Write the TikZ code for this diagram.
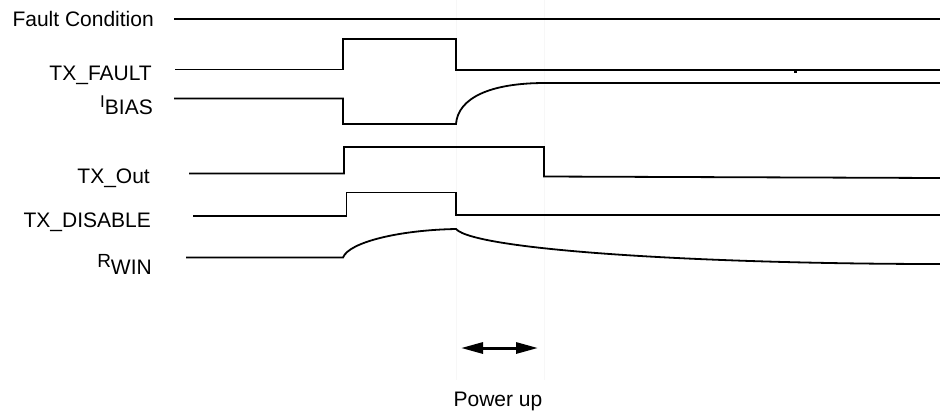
\documentclass[tikz,border=0pt]{standalone}
\usepackage{fontspec}
\setmainfont{Liberation Sans}
\usetikzlibrary{arrows.meta}
\begin{document}
\begin{tikzpicture}[x=1pt,y=-1pt,
  lbl/.style={anchor=base east,inner sep=0pt,font=\fontsize{21}{24}\selectfont},
  sig/.style={line width=1.8pt,line join=miter},
  guide/.style={line width=0.6pt,black!3},
  span/.style={line width=3pt,{Triangle[length=22pt,width=11pt]}-{Triangle[length=22pt,width=11pt]}}]
\useasboundingbox (0,0) rectangle (940,416);
% faint guide lines
\draw[guide] (456.5,0) -- (456.5,380);
\draw[guide] (544.5,0) -- (544.5,380);
% labels
\node[lbl] (fc) at (154,26) {Fault Condition};
\node[lbl] (txf) at (152,80) {TX\_FAULT};
\node[lbl] (ibias) at (153,114) {\raisebox{6.5pt}{\fontsize{17}{20}\selectfont I}BIAS};
\node[lbl] (txo) at (150,183) {TX\_Out};
\node[lbl] (txd) at (151,227) {TX\_DISABLE};
\node[lbl] (rwin) at (152,274) {\raisebox{6.5pt}{\fontsize{19}{20}\selectfont R}WIN};
\node[lbl,anchor=base] (pu) at (498,406) {Power up};
% signals
\draw[sig] (174,19) -- (940,19);
\draw[sig] (175,69.5) -- (343,69.5) -- (343,39) -- (456,39) -- (456,70) -- (940,70);
\fill (794,70) rectangle (797,73);
\draw[sig] (174,98.5) -- (343,98.5) -- (343,124) -- (456,124)
  .. controls (458,98) and (490,83) .. (545,83) -- (940,83);
\draw[sig] (189,173.5) -- (344,173.5) -- (344,147) -- (544,147) -- (544,176.5) -- (940,178);
\draw[sig] (193,216) -- (346.5,216) -- (346.5,192.5) -- (456,192.5) -- (456,215) -- (940,215);
\draw[sig] (186,257.5) -- (343,257.5)
  .. controls (349,242) and (400,230) .. (456,229)
  .. controls (475,250) and (700,264) .. (940,264);
% power-up arrow
\coordinate (pa) at (461,348);
\coordinate (pb) at (538,348);
\draw[span] (pa) -- (pb);
\end{tikzpicture}
\end{document}
